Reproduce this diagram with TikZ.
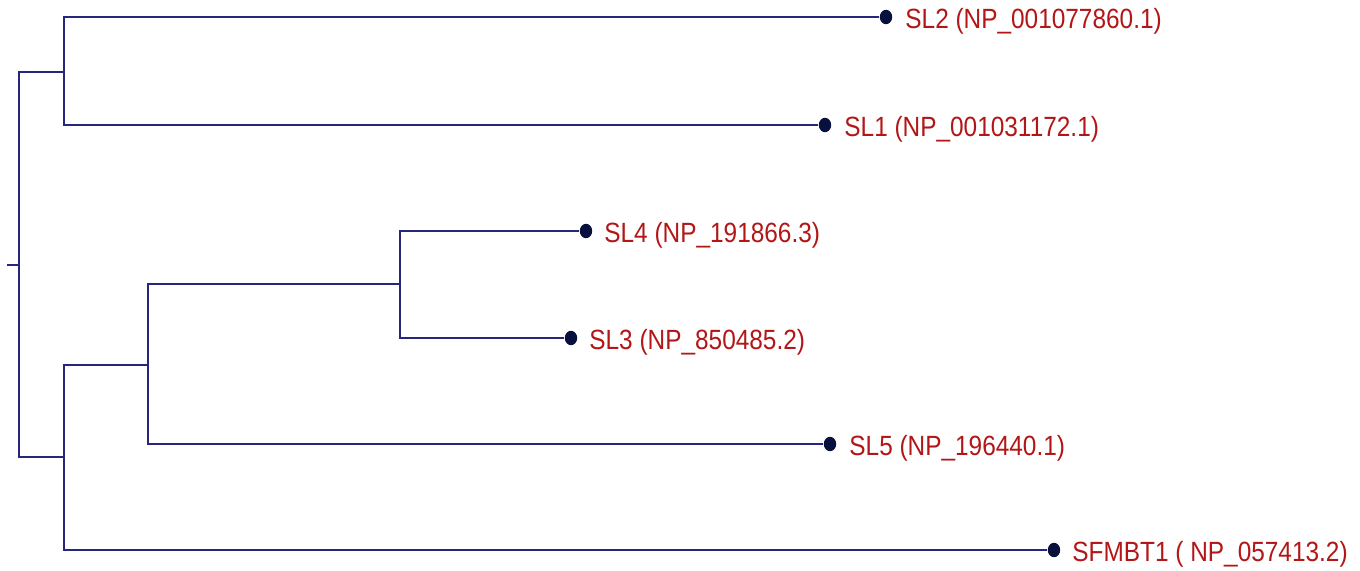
\documentclass[tikz,border=0pt]{standalone}
\usepackage{fontspec}
\usepackage{graphicx}
\usetikzlibrary{shapes.geometric}
\setmainfont{Liberation Sans}
\definecolor{treeblue}{RGB}{38,38,125}
\definecolor{dotblue}{RGB}{8,16,62}
\definecolor{lblred}{RGB}{178,22,22}
\newcommand{\tallbox}[1]{\scalebox{1}[1.14]{#1}}
\begin{document}
\begin{tikzpicture}[x=0.5pt,y=-0.5pt,
  tree/.style={draw=treeblue,line width=1.25pt},
  leaf/.style={ellipse,fill=dotblue,minimum width=6.2pt,minimum height=7.2pt,inner sep=0pt},
  lbl/.style={text=lblred,font=\fontsize{12.2pt}{14pt}\selectfont,inner sep=0pt,anchor=base west}]
\useasboundingbox (0,0) rectangle (1360,570);
\coordinate (r0) at (7,265);
\coordinate (root) at (19,265);
\coordinate (n1) at (64,72);
\coordinate (n2) at (64,457);
\coordinate (n3) at (148,365);
\coordinate (n4) at (400,284);
\node[leaf] (sl2) at (886,17) {};
\node[leaf] (sl1) at (825,125) {};
\node[leaf] (sl4) at (586,231) {};
\node[leaf] (sl3) at (571,338) {};
\node[leaf] (sl5) at (830,444) {};
\node[leaf] (sf) at (1054,550) {};
\node[lbl] (t2) at (905,28) {\tallbox{SL2 (NP\_001077860.1)}};
\node[lbl] (t1) at (844,136) {\tallbox{SL1 (NP\_001031172.1)}};
\node[lbl] (t4) at (604,242) {\tallbox{SL4 (NP\_191866.3)}};
\node[lbl] (t3) at (589,349) {\tallbox{SL3 (NP\_850485.2)}};
\node[lbl] (t5) at (849,455) {\tallbox{SL5 (NP\_196440.1)}};
\node[lbl] (tsf) at (1072,561) {\tallbox{SFMBT1 ( NP\_057413.2)}};
\draw[tree] (r0) -- (root);
\draw[tree] (n1) -| (root) |- (n2);
\draw[tree] (sl2) -| (n1) |- (sl1);
\draw[tree] (n3) -| (n2) |- (sf);
\draw[tree] (n4) -| (n3) |- (sl5);
\draw[tree] (sl4) -| (n4) |- (sl3);
\end{tikzpicture}
\end{document}
